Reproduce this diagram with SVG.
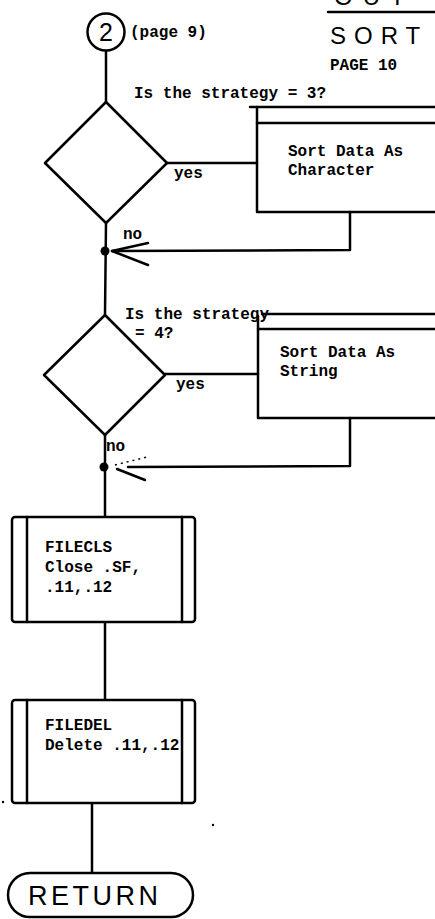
<svg xmlns="http://www.w3.org/2000/svg" width="435" height="919" viewBox="0 0 435 919">
<style>
.ln{fill:none;stroke:#000;stroke-width:2.5;stroke-linecap:round;stroke-linejoin:round}
.sh{fill:#fff;stroke:#000;stroke-width:2.5;stroke-linejoin:round}
.tw{font-family:"Liberation Mono","DejaVu Sans Mono",monospace;font-weight:bold;font-size:16px;fill:#000}
.sans{font-family:"Liberation Sans","DejaVu Sans",sans-serif;fill:#000}
</style>
<rect width="435" height="919" fill="#fff"/>

<g id="header">
<text class="sans" x="334" y="5" font-size="24" letter-spacing="10">OUT</text>
<line class="ln" x1="328" y1="12" x2="435" y2="12"/>
<text class="sans" x="330" y="44" font-size="24" letter-spacing="8">SORT</text>
<text class="tw" x="330" y="70" font-size="15">PAGE 10</text>
</g>

<g id="connectors">
<line class="ln" x1="106" y1="51" x2="106" y2="102"/>
<line class="ln" x1="106" y1="223" x2="105" y2="315"/>
<line class="ln" x1="167" y1="163" x2="257" y2="163"/>
<polyline class="ln" points="350,212 350,250 112,251"/>
<polyline class="ln" points="148,243 112,251 148,265"/>
<circle cx="105" cy="251" r="4.5" fill="#000"/>
<line class="ln" x1="165" y1="374" x2="258" y2="374"/>
<line class="ln" x1="105" y1="435" x2="105" y2="517"/>
<polyline class="ln" points="350,418 350,466 128,467"/>
<line x1="115" y1="465" x2="147" y2="457" stroke="#000" stroke-width="1.5" stroke-dasharray="2,4"/>
<line class="ln" x1="117" y1="469" x2="145" y2="480"/>
<circle cx="104" cy="467" r="4.5" fill="#000"/>
<line class="ln" x1="105" y1="622" x2="105" y2="700"/>
<line class="ln" x1="92" y1="803" x2="92" y2="873"/>
</g>

<g id="n_connector2">
<circle class="sh" cx="106" cy="32" r="18.5"/>
<text class="sans" x="106" y="41" font-size="25" text-anchor="middle">2</text>
<text class="tw" x="130" y="37" font-size="15">(page 9)</text>
</g>

<g id="n_decision1">
<polygon class="sh" points="106,102 167,163 106,223 45,163"/>
<text class="tw" x="134" y="98">Is the strategy = 3?</text>
<text class="tw" x="174" y="178">yes</text>
<text class="tw" x="123" y="239">no</text>
</g>

<g id="n_sort_char">
<polyline class="ln" points="250,107 435,107"/>
<polyline class="ln" points="435,212 257,212 257,107"/>
<line class="ln" x1="257" y1="123" x2="435" y2="123"/>
<text class="tw" x="288" y="156">Sort Data As</text>
<text class="tw" x="288" y="175">Character</text>
</g>

<g id="n_decision2">
<polygon class="sh" points="105,315 165,375 105,435 44,375"/>
<text class="tw" x="125" y="319">Is the strategy</text>
<text class="tw" x="135" y="338">= 4?</text>
<text class="tw" x="176" y="389">yes</text>
<text class="tw" x="106" y="451">no</text>
</g>

<g id="n_sort_string">
<line class="ln" x1="262" y1="314" x2="435" y2="314"/>
<polyline class="ln" points="435,418 258,418 258,316"/>
<line class="ln" x1="258" y1="329" x2="435" y2="329"/>
<text class="tw" x="280" y="357">Sort Data As</text>
<text class="tw" x="280" y="376">String</text>
</g>

<g id="n_filecls">
<rect class="sh" x="12" y="517" width="183" height="105" rx="3"/>
<line class="ln" x1="27" y1="517" x2="27" y2="622"/>
<line class="ln" x1="182" y1="517" x2="182" y2="622"/>
<text class="tw" x="45" y="552">FILECLS</text>
<text class="tw" x="45" y="572">Close .SF,</text>
<text class="tw" x="45" y="592">.11,.12</text>
</g>

<g id="n_filedel">
<rect class="sh" x="12" y="700" width="183" height="103" rx="3"/>
<line class="ln" x1="27" y1="700" x2="27" y2="803"/>
<line class="ln" x1="182" y1="700" x2="182" y2="803"/>
<text class="tw" x="45" y="730">FILEDEL</text>
<text class="tw" x="45" y="750">Delete .11,.12</text>
</g>

<g id="n_return">
<rect class="sh" x="8" y="873" width="185" height="44" rx="22"/>
<text class="sans" x="28" y="905" font-size="27" letter-spacing="3.5">RETURN</text>
</g>

<circle cx="3" cy="802" r="1.2" fill="#000"/>
<circle cx="213" cy="825" r="1.2" fill="#000"/>
</svg>
